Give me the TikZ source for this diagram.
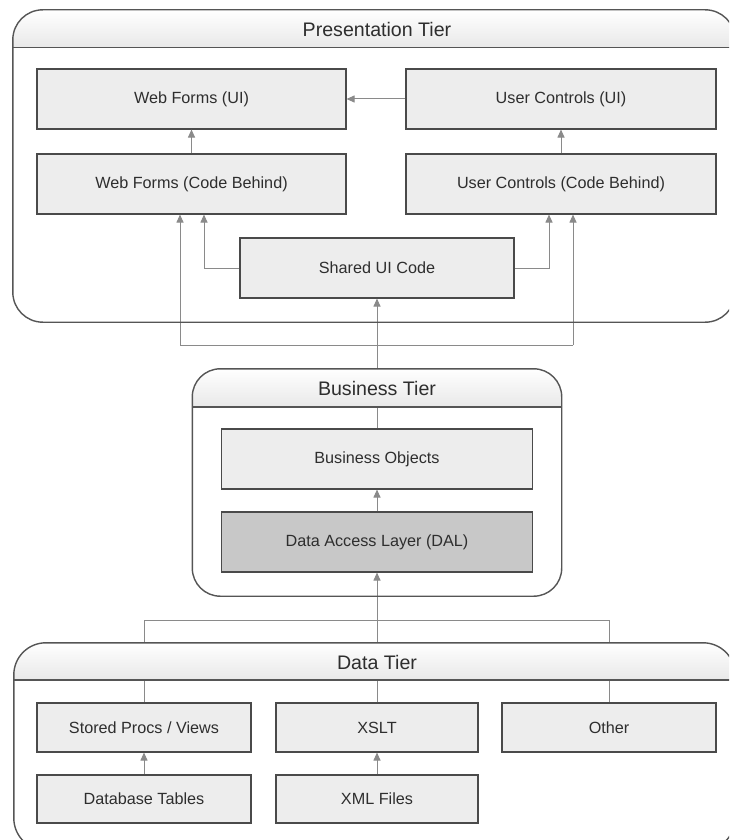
\documentclass[tikz,border=0pt]{standalone}
\usepackage{fontspec}
\setmainfont{Liberation Sans}
\usetikzlibrary{arrows.meta}

\definecolor{boxfill}{HTML}{EDEDED}
\definecolor{dalfill}{HTML}{C8C8C8}
\definecolor{boxline}{HTML}{4A4A4A}
\definecolor{tierline}{HTML}{555555}
\definecolor{connline}{HTML}{8A8A8A}
\definecolor{hdrgray}{HTML}{E8E8E8}
\definecolor{textcol}{HTML}{2E2E2E}

% Header band of a tier: shading clipped to the rounded outline, outline, rule below the band
% #1 tier node, #2 band height, #3 corner radius
\newcommand{\tierband}[3]{%
  \begin{scope}
    \clip[rounded corners=#3] (#1.north west) rectangle (#1.south east);
    \shade[top color=white,bottom color=hdrgray]
      (#1.north west) rectangle ([yshift=-#2]#1.north east);
  \end{scope}
  \draw[tierline,line width=1.4pt,rounded corners=#3] (#1.north west) rectangle (#1.south east);
  \draw[tierline,line width=1.4pt] ([yshift=-#2]#1.north west) -- ([yshift=-#2]#1.north east);
}

\begin{document}
\begin{tikzpicture}[x=1pt,y=-1pt,
  tier/.style={fill=white,inner sep=0pt},
  tiertitle/.style={inner sep=0pt,text=textcol,font=\fontsize{19.6}{24}\selectfont},
  box/.style={draw=boxline,line width=1.1pt,fill=boxfill,inner sep=0pt,text=textcol,
    font=\fontsize{16.2}{19}\selectfont},
  conn/.style={draw=connline,line width=1pt},
  arr/.style={conn,-{Triangle[length=8pt,width=7pt]}}
]
\useasboundingbox (0,0) rectangle (729,840);
\clip (0,0) rectangle (729,840);

% ---------- tier bodies ----------
\path[rounded corners=30pt] node[tier,minimum width=722pt,minimum height=312pt] (pres) at (374,166) {};
\fill[white,rounded corners=30pt] (pres.north west) rectangle (pres.south east);
\path node[tier,fill=none,minimum width=369pt,minimum height=227pt] (bus) at (377,482.5) {};
\fill[white,rounded corners=28pt] (bus.north west) rectangle (bus.south east);
\path node[tier,fill=none,minimum width=721pt,minimum height=207pt] (data) at (374.5,746.5) {};
\fill[white,rounded corners=32pt] (data.north west) rectangle (data.south east);

% ---------- presentation boxes ----------
\node[box,minimum width=309pt,minimum height=60pt] (wfui) at (191.5,99) {Web Forms (UI)};
\node[box,minimum width=310pt,minimum height=60pt] (ucui) at (561,99) {User Controls (UI)};
\node[box,minimum width=309pt,minimum height=60pt] (wfcb) at (191.5,184) {Web Forms (Code Behind)};
\node[box,minimum width=310pt,minimum height=60pt] (uccb) at (561,184) {User Controls (Code Behind)};
\node[box,minimum width=274pt,minimum height=60pt] (shared) at (377,268) {Shared UI Code};

% ---------- business boxes ----------
\node[box,minimum width=311pt,minimum height=60pt] (bo) at (377,459) {Business Objects};
\node[box,fill=dalfill,minimum width=311pt,minimum height=60pt] (dal) at (377,542) {Data Access Layer (DAL)};

% ---------- data boxes ----------
\node[box,minimum width=214pt,minimum height=49pt] (sp) at (144,727.5) {Stored Procs / Views};
\node[box,minimum width=202pt,minimum height=49pt] (xslt) at (377,727.5) {XSLT};
\node[box,minimum width=214pt,minimum height=49pt] (other) at (609,727.5) {Other};
\node[box,minimum width=214pt,minimum height=48pt] (dbt) at (144,799) {Database Tables};
\node[box,minimum width=202pt,minimum height=48pt] (xml) at (377,799) {XML Files};

% ---------- connectors: presentation tier ----------
\draw[arr] (ucui.west) -- (wfui.east);
\draw[arr] (wfcb) -- (wfui);
\draw[arr] (uccb) -- (ucui);
\coordinate (sl) at (204,268);
\coordinate (sr) at (549,268);
\draw[arr] (shared.west) -- (sl) -- (sl |- wfcb.south);
\draw[arr] (shared.east) -- (sr) -- (sr |- uccb.south);

% ---------- connectors: business to presentation ----------
\draw[arr] (bo.north) -- (shared.south);
\coordinate (pl) at (180,345);
\coordinate (pr) at (573,345);
\draw[conn] (pl) -- (pr);
\draw[arr] (pl) -- (pl |- wfcb.south);
\draw[arr] (pr) -- (pr |- uccb.south);
\draw[arr] (dal) -- (bo);

% ---------- connectors: data to business ----------
\draw[arr] (xslt.north) -- (dal.south);
\coordinate (dl) at (144,620);
\coordinate (dr) at (609,620);
\draw[conn] (dl) -- (dr);
\draw[conn] (dl) -- (sp.north);
\draw[conn] (dr) -- (other.north);
\draw[arr] (dbt) -- (sp);
\draw[arr] (xml) -- (xslt);

% ---------- tier headers and outlines, over the connectors ----------
\tierband{pres}{38pt}{30pt}
\node[tiertitle] (prestitle) at (377,29) {Presentation Tier};
\tierband{bus}{38pt}{28pt}
\node[tiertitle] (bustitle) at (377,388) {Business Tier};
\tierband{data}{37pt}{32pt}
\node[tiertitle] (datatitle) at (377,662) {Data Tier};
\end{tikzpicture}
\end{document}
